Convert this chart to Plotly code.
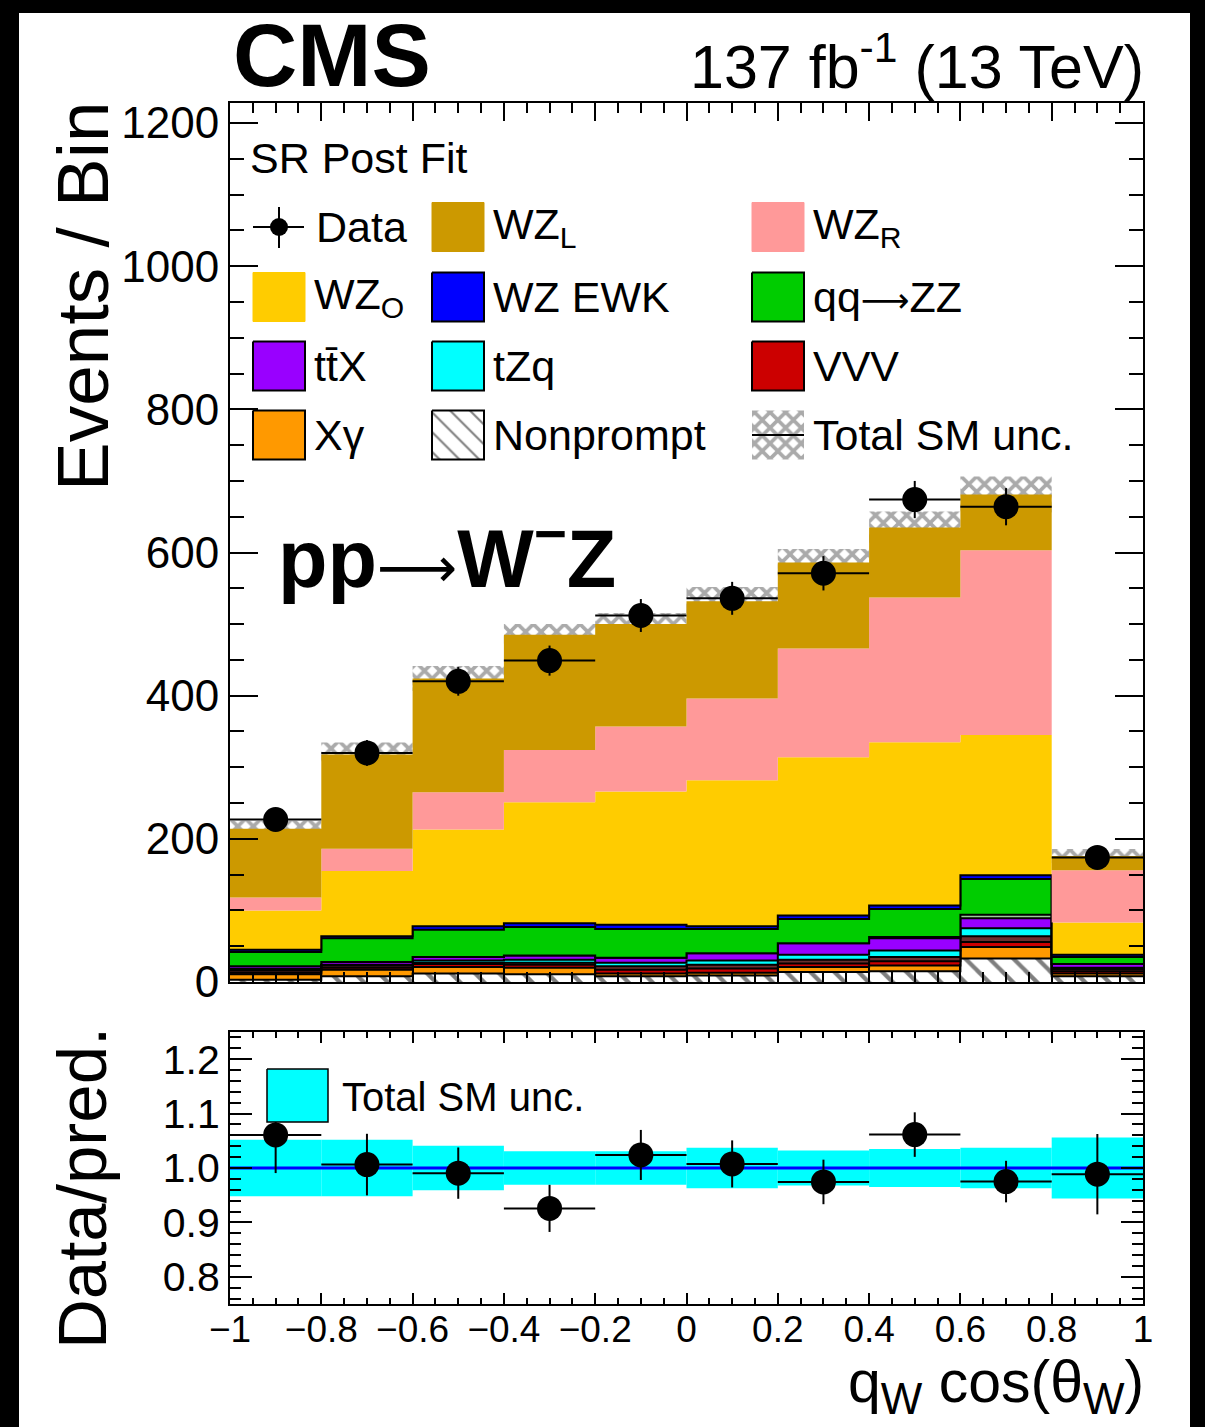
import plotly.graph_objects as go

W, H = 1205, 1427
FONT = "Liberation Sans, Arial, Helvetica, sans-serif"

# ---------------- data ----------------
bin_edges = [-1.0, -0.8, -0.6, -0.4, -0.2, 0.0, 0.2, 0.4, 0.6, 0.8, 1.0]
bin_centers = [-0.9, -0.7, -0.5, -0.3, -0.1, 0.1, 0.3, 0.5, 0.7, 0.9]

# stacked backgrounds, bottom to top
nonprompt = [3, 8, 12, 11, 8, 9, 14, 15, 33, 8]
xgamma    = [8, 9, 9, 9, 4, 4, 7, 8, 16, 4]
vvv       = [2, 3, 4, 4, 5, 6, 5, 6, 7, 3]
other_bkg = [3, 3, 2, 3, 5, 5, 5, 6, 8, 3]
tzq       = [2, 1, 3, 4, 5, 6, 7, 9, 11, 2]
ttx       = [4, 4, 5, 6, 7, 10, 16, 17, 14, 5]
ggzz      = [0, 0, 0, 0, 0, 0, 0, 2, 5, 0]
qqzz      = [20, 33, 38, 40, 40, 34, 34, 39, 50, 10]
wz_ewk    = [3, 3, 5, 5, 6, 4, 5, 5, 5, 3]
wz_o      = [55, 91, 135, 169, 186, 204, 221, 228, 196, 45]
wz_r      = [18, 31, 52, 73, 91, 114, 152, 202, 258, 73]
wz_l      = [96, 132, 159, 161, 143, 136, 120, 98, 78, 20]

data_counts = [227, 320, 420, 449, 512, 536, 571, 674, 664, 174]
data_errors = [15, 18, 20, 21, 23, 23, 24, 26, 26, 13]
rel_unc     = [0.052, 0.052, 0.041, 0.031, 0.031, 0.037, 0.032, 0.035, 0.037, 0.056]

x_tick_vals = [-1, -0.8, -0.6, -0.4, -0.2, 0, 0.2, 0.4, 0.6, 0.8, 1]
x_tick_text = ["\u22121", "\u22120.8", "\u22120.6", "\u22120.4", "\u22120.2", "0",
               "0.2", "0.4", "0.6", "0.8", "1"]
ratio_tick_vals = [0.8, 0.9, 1.0, 1.1, 1.2]
ratio_tick_text = ["0.8", "0.9", "1.0", "1.1", "1.2"]

# ---------------- geometry (pixels) ----------------
AX_L, AX_R = 230, 1143
MAIN_T, MAIN_B = 103, 982
RAT_T, RAT_B = 1032, 1304


def fx(px):
    return px / W


def fy(py):
    return 1 - py / H


fig = go.Figure()

HATCH_NP = dict(shape="\\", fgcolor="black", bgcolor="white", size=17, solidity=0.25)
HATCH_UNC = dict(shape="x", fgcolor="#555555", bgcolor="rgba(0,0,0,0)", size=11, solidity=0.55)

# ---------------- stacked histogram ----------------
layers = [
    (nonprompt, "white", "black", 2, HATCH_NP),
    (xgamma, "#ff9900", "black", 2, None),
    (vvv, "#cc0000", "black", 2, None),
    (other_bkg, "#6b2f2f", "black", 2, None),
    (tzq, "#00ffff", "black", 2, None),
    (ttx, "#9900ff", "black", 2, None),
    (ggzz, "#99cc99", "black", 2, None),
    (qqzz, "#00cc00", "black", 2, None),
    (wz_ewk, "#0000ff", "black", 2, None),
    (wz_o, "#ffcc00", "#ffcc00", 0, None),
    (wz_r, "#ff9999", "#ff9999", 0, None),
    (wz_l, "#cc9900", "#cc9900", 0, None),
]

cum = [0.0] * len(bin_centers)
for i, (vals, fc, lc, lw, pat) in enumerate(layers):
    cum = [c + v for c, v in zip(cum, vals)]
    ys = cum + [cum[-1]]
    kw = dict(
        x=bin_edges, y=ys, mode="lines", line=dict(shape="hv", color=lc, width=lw),
        fill="tozeroy" if i == 0 else "tonexty", fillcolor=fc,
        xaxis="x", yaxis="y", hoverinfo="skip",
    )
    if pat:
        kw["fillpattern"] = pat
    fig.add_trace(go.Scatter(**kw))

total = cum
abs_unc = [t * r for t, r in zip(total, rel_unc)]

# total SM uncertainty band (cross-hatched)
fig.add_trace(go.Bar(
    x=bin_centers, y=[2 * u for u in abs_unc], base=[t - u for t, u in zip(total, abs_unc)],
    width=0.2, marker=dict(color="rgba(0,0,0,0)", line=dict(width=0), pattern=HATCH_UNC),
    xaxis="x", yaxis="y", hoverinfo="skip",
))

# data
fig.add_trace(go.Scatter(
    x=bin_centers, y=data_counts, mode="markers",
    marker=dict(color="black", size=25),
    error_y=dict(type="data", array=data_errors, color="black", thickness=2, width=0),
    error_x=dict(type="constant", value=0.1, color="black", thickness=2, width=0),
    xaxis="x", yaxis="y", hoverinfo="skip",
))

# ---------------- ratio panel ----------------
ratio = [d / t for d, t in zip(data_counts, total)]
ratio_err = [e / t for e, t in zip(data_errors, total)]

fig.add_trace(go.Bar(
    x=bin_centers, y=[2 * r for r in rel_unc], base=[1 - r for r in rel_unc], width=0.2,
    marker=dict(color="#00ffff", line=dict(width=0)),
    xaxis="x2", yaxis="y2", hoverinfo="skip",
))
fig.add_trace(go.Scatter(
    x=[bin_edges[0], bin_edges[-1]], y=[1, 1], mode="lines",
    line=dict(color="#0000ff", width=3), xaxis="x2", yaxis="y2", hoverinfo="skip",
))
fig.add_trace(go.Scatter(
    x=bin_centers, y=ratio, mode="markers",
    marker=dict(color="black", size=25),
    error_y=dict(type="data", array=ratio_err, color="black", thickness=2, width=0),
    error_x=dict(type="constant", value=0.1, color="black", thickness=2, width=0),
    xaxis="x2", yaxis="y2", hoverinfo="skip",
))

# ---------------- legend (drawn on a pixel overlay axis) ----------------
def box(x0, y0, x1, y1, fc, lc, lw, pat=None):
    kw = dict(x=[x0, x1, x1, x0, x0], y=[y0, y0, y1, y1, y0], mode="lines",
              fill="toself", fillcolor=fc, line=dict(color=lc, width=lw),
              xaxis="x3", yaxis="y3", hoverinfo="skip")
    if pat:
        kw["fillpattern"] = pat
    fig.add_trace(go.Scatter(**kw))


def long_arrow(px):
    return "<span style='font-family:DejaVu Sans;font-size:%dpx'>\u27f6</span>" % px


col_x = [253, 432, 752]
row_y = [227, 297, 366, 435]
BW, BH = 52, 49

legend_entries = [
    # (col, row, label, fill, line, lw, pattern)
    (1, 0, "WZ<sub>L</sub>", "#cc9900", "#cc9900", 1, None),
    (2, 0, "WZ<sub>R</sub>", "#ff9999", "#ff9999", 1, None),
    (0, 1, "WZ<sub>O</sub>", "#ffcc00", "#ffcc00", 1, None),
    (1, 1, "WZ EWK", "#0000ff", "black", 2, None),
    (2, 1, "qq" + long_arrow(34) + "ZZ", "#00cc00", "black", 2, None),
    (0, 2, "tt\u0304X", "#9900ff", "black", 2, None),
    (1, 2, "tZq", "#00ffff", "black", 2, None),
    (2, 2, "VVV", "#cc0000", "black", 2, None),
    (0, 3, "X\u03b3", "#ff9900", "black", 2, None),
    (1, 3, "Nonprompt", "white", "black", 2,
     dict(shape="\\", fgcolor="black", bgcolor="white", size=14, solidity=0.15)),
    (2, 3, "Total SM unc.", "rgba(0,0,0,0)", "rgba(0,0,0,0)", 0,
     dict(shape="x", fgcolor="#555555", bgcolor="white", size=11, solidity=0.55)),
]

annotations = []


def text(x, y, s, size, xanchor="left", yanchor="middle", angle=0, ref="3"):
    annotations.append(dict(
        x=x, y=y, xref="x" + ref, yref="y" + ref, text=s, showarrow=False,
        xanchor=xanchor, yanchor=yanchor, textangle=angle,
        font=dict(family=FONT, size=size, color="black"),
    ))


for c, r, label, fc, lc, lw, pat in legend_entries:
    x0 = col_x[c]
    yc = row_y[r]
    box(x0, yc - BH / 2, x0 + BW, yc + BH / 2, fc, lc, lw, pat)
    if label == "Total SM unc.":
        fig.add_trace(go.Scatter(x=[x0, x0 + BW], y=[yc, yc], mode="lines",
                                 line=dict(color="black", width=2),
                                 xaxis="x3", yaxis="y3", hoverinfo="skip"))
    text(x0 + BW + 7, yc, label, 43)

# data legend symbol
dx = col_x[0] + 26
fig.add_trace(go.Scatter(x=[col_x[0], col_x[0] + 51], y=[row_y[0], row_y[0]], mode="lines",
                         line=dict(color="black", width=2), xaxis="x3", yaxis="y3",
                         hoverinfo="skip"))
fig.add_trace(go.Scatter(x=[dx, dx], y=[row_y[0] - 20, row_y[0] + 21], mode="lines",
                         line=dict(color="black", width=2), xaxis="x3", yaxis="y3",
                         hoverinfo="skip"))
fig.add_trace(go.Scatter(x=[dx], y=[row_y[0]], mode="markers",
                         marker=dict(color="black", size=18), xaxis="x3", yaxis="y3",
                         hoverinfo="skip"))
text(314, row_y[0], "Data", 43)

# ratio legend
box(267, 1069, 328, 1122, "#00ffff", "black", 1.5)
text(340, 1097, "Total SM unc.", 40)

# other labels
text(248, 158, "SR Post Fit", 43)
text(231, 55, "<b>CMS</b>", 89)
text(1146, 62, "137 fb<sup>-1</sup> (13 TeV)", 61, xanchor="right")
text(276, 553, "<b>pp</b>" + long_arrow(56) + "<b>W<sup>\u2212</sup>Z</b>", 81)
text(82, 296, "Events / Bin", 73, xanchor="center", angle=-90)
text(82, 1188, "Data/pred.", 69, xanchor="center", angle=-90)
SUBW = "<sub><span style='font-size:44px'>W</span></sub>"
text(1146, 1386, "q" + SUBW + " cos(\u03b8" + SUBW + ")", 59, xanchor="right")

# ---------------- layout ----------------
common_x = dict(showgrid=False, zeroline=False, showline=True, linecolor="black", linewidth=2,
                mirror="ticks", ticks="inside", tickcolor="black", tickwidth=2,
                range=[-1, 1], automargin=False)

fig.update_layout(
    width=W, height=H, margin=dict(l=0, r=0, t=0, b=0, pad=0, autoexpand=False),
    paper_bgcolor="black", plot_bgcolor="rgba(0,0,0,0)",
    showlegend=False, barmode="overlay",
    font=dict(family=FONT, color="black"),
    xaxis=dict(**common_x, domain=[fx(AX_L), fx(AX_R)], anchor="y", showticklabels=False,
               tickmode="array", tickvals=x_tick_vals,
               ticklen=18, minor=dict(ticks="inside", ticklen=10,
                                      tickvals=[v / 20 for v in range(-20, 21)],
                                      tickcolor="black", tickwidth=2)),
    yaxis=dict(domain=[fy(MAIN_B), fy(MAIN_T)], anchor="x", range=[0, 1228],
               showgrid=False, zeroline=False, showline=True, linecolor="black", linewidth=2,
               mirror="ticks", ticks="inside", tickcolor="black", tickwidth=2, automargin=False,
               tick0=0, dtick=200, ticklen=28, tickfont=dict(size=44, family=FONT),
               ticklabelstandoff=0,
               minor=dict(ticks="inside", ticklen=14, dtick=50, tickcolor="black", tickwidth=2)),
    xaxis2=dict(**common_x, domain=[fx(AX_L), fx(AX_R)], anchor="y2",
                tickmode="array", tickvals=x_tick_vals, ticktext=x_tick_text,
                ticklen=11, tickfont=dict(size=37, family=FONT), ticklabelstandoff=-8,
                minor=dict(ticks="inside", ticklen=6, tickvals=[v / 20 for v in range(-20, 21)],
                           tickcolor="black", tickwidth=2)),
    yaxis2=dict(domain=[fy(RAT_B), fy(RAT_T)], anchor="x2", range=[0.75, 1.25],
                showgrid=False, zeroline=False, showline=True, linecolor="black", linewidth=2,
                mirror="ticks", ticks="inside", tickcolor="black", tickwidth=2, automargin=False,
                tickmode="array", tickvals=ratio_tick_vals, ticktext=ratio_tick_text,
                ticklen=22, tickfont=dict(size=41, family=FONT), ticklabelstandoff=0,
                minor=dict(ticks="inside", ticklen=11,
                           tickvals=[0.76 + 0.02 * k for k in range(25)],
                           tickcolor="black", tickwidth=2)),
    xaxis3=dict(domain=[0, 1], range=[0, W], visible=False, anchor="y3", automargin=False),
    yaxis3=dict(domain=[0, 1], range=[H, 0], visible=False, anchor="x3", automargin=False),
    annotations=annotations,
    shapes=[dict(type="rect", xref="paper", yref="paper", x0=fx(19), x1=fx(1190),
                 y0=0, y1=fy(13), fillcolor="white", line=dict(width=0), layer="below")],
)

fig.write_html("out.html",
               config={"displayModeBar": False},
               post_script="document.body.style.margin='0';"
                           "document.body.style.overflow='hidden';")
